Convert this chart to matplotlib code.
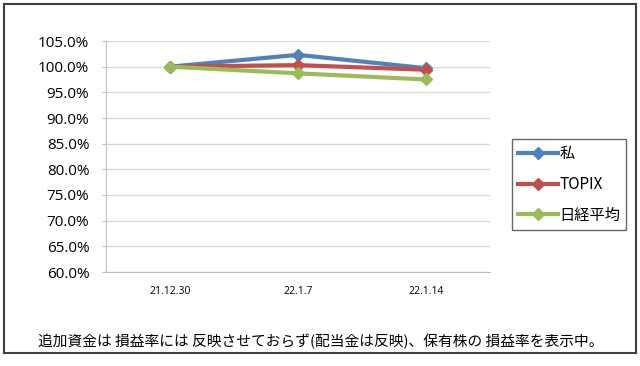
import matplotlib.pyplot as plt
from matplotlib.patches import Rectangle

plt.rcParams['font.family'] = ['Noto Sans CJK JP', 'DejaVu Sans']

# データ
dates = ['21.12.30', '22.1.7', '22.1.14']
watashi = [100.0, 102.3, 99.7]
topix = [100.0, 100.3, 99.4]
nikkei = [100.0, 98.7, 97.5]
series_names = ['私', 'TOPIX', '日経平均']
colors = ['#4F81BD', '#C0504D', '#9BBB59']
yticks = [60, 65, 70, 75, 80, 85, 90, 95, 100, 105]
note = '追加資金は 損益率には 反映させておらず(配当金は反映)、保有株の 損益率を表示中。'

W, H = 640, 366
fig = plt.figure(figsize=(W / 100, H / 100), dpi=100)

# 外枠
fig.patches.append(Rectangle((4 / W, 1 - 353 / H), 632 / W, 349 / H,
                             transform=fig.transFigure, fill=False,
                             edgecolor='#404040', linewidth=1.5))

ax = fig.add_axes([106 / W, 1 - 272 / H, 384 / W, 231 / H])
x = range(len(dates))
for vals, name, c in zip([watashi, topix, nikkei], series_names, colors):
    ax.plot(x, vals, color=c, linewidth=3, marker='D', markersize=6,
            label=name)

ax.set_xlim(-0.5, len(dates) - 0.5)
ax.set_ylim(60, 105)
ax.set_yticks(yticks)
ax.set_yticklabels([f'{v:.1f}%' for v in yticks], fontsize=11,
                   family=['Open Sans', 'DejaVu Sans'])
ax.set_xticks(list(x))
ax.set_xticklabels(dates, fontsize=7.5, family=['Open Sans', 'DejaVu Sans'])
ax.tick_params(axis='x', length=0, pad=10)
ax.tick_params(axis='y', length=3, color='#BFBFBF', pad=9)
ax.grid(axis='y', color='#D9D9D9', linewidth=1)
ax.set_axisbelow(True)
for s in ['top', 'right']:
    ax.spines[s].set_visible(False)
for s in ['left', 'bottom']:
    ax.spines[s].set_color('#BFBFBF')

leg = ax.legend(loc='upper left', bbox_to_anchor=(512 / W, 1 - 139 / H),
                bbox_transform=fig.transFigure, fontsize=11, frameon=True,
                fancybox=False, edgecolor='#404040', handlelength=2.6,
                handletextpad=0.1, labelspacing=0.9, borderpad=0.4,
                borderaxespad=0)
leg.get_frame().set_linewidth(1)

fig.text(38 / W, 1 - 341 / H, note, fontsize=10.6, va='center')

fig.savefig('out.png', dpi=100)
